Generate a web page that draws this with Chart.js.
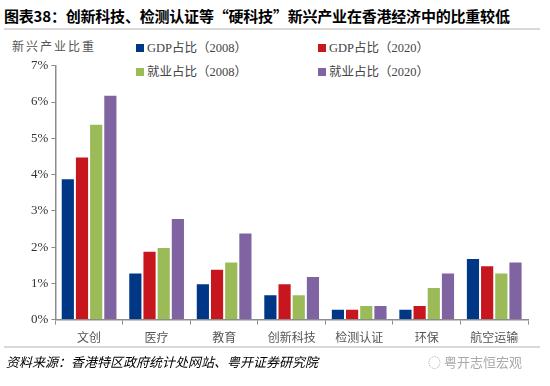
<!DOCTYPE html>
<html>
<head>
<meta charset="utf-8">
<script src="https://cdn.jsdelivr.net/npm/chart.js@4"></script>
<style>
  body { margin: 0; background: #fff; width: 550px; height: 386px; position: relative; overflow: hidden; font-family: "Noto Sans CJK SC", sans-serif; }
  #title { position: absolute; left: 4px; top: 5px; font-size: 15px; font-weight: bold; color: #000; white-space: nowrap; letter-spacing: -0.2px; }
  .rule { position: absolute; left: 4px; width: 536px; height: 2px; background: #d9d9d9; }
  #ylabel { position: absolute; left: 12px; top: 37px; font-size: 12px; color: #555; letter-spacing: 2px; }
  .leg { position: absolute; font-size: 12.5px; color: #444; white-space: nowrap; font-family: "Liberation Serif", "Noto Sans CJK SC", serif; }
  .leg span.box { display: inline-block; width: 8px; height: 8px; margin-right: 3px; vertical-align: 0px; }
  #source { position: absolute; left: 6px; top: 352px; font-size: 13px; font-style: italic; color: #000; white-space: nowrap; }
  #mark { position: absolute; left: 428px; top: 352px; font-size: 13px; color: #aaa; white-space: nowrap; }
  #wrap { position: absolute; left: 0; top: 55px; width: 550px; height: 296px; }
</style>
</head>
<body>
<div id="title">图表38：创新科技、检测认证等“硬科技”新兴产业在香港经济中的比重较低</div>
<div class="rule" style="top:28px"></div>
<div id="ylabel">新兴产业比重</div>
<div id="legend"></div>
<div id="wrap"><canvas id="chart"></canvas></div>
<div class="rule" style="top:346px"></div>
<div id="source">资料来源：香港特区政府统计处网站、粤开证券研究院</div>
<div id="mark">◌ 粤开志恒宏观</div>
<script>
const categories = ['文创', '医疗', '教育', '创新科技', '检测认证', '环保', '航空运输'];
const seriesNames = ['GDP占比（2008）', 'GDP占比（2020）', '就业占比（2008）', '就业占比（2020）'];
const gdp2008 = [3.9, 1.3, 1.0, 0.7, 0.3, 0.3, 1.7];
const gdp2020 = [4.5, 1.9, 1.4, 1.0, 0.3, 0.4, 1.5];
const job2008 = [5.4, 2.0, 1.6, 0.7, 0.4, 0.9, 1.3];
const job2020 = [6.2, 2.8, 2.4, 1.2, 0.4, 1.3, 1.6];
const colors = ['#003686', '#c8161e', '#9bbb59', '#8064a2'];

// legend drawn as html, two columns
const legendPos = [[136, 37], [318, 37], [136, 61], [318, 61]];
const legendContainer = document.getElementById('legend');
seriesNames.forEach((name, i) => {
    const item = document.createElement('div');
    item.className = 'leg';
    item.style.left = legendPos[i][0] + 'px';
    item.style.top = legendPos[i][1] + 'px';
    const box = document.createElement('span');
    box.className = 'box';
    box.style.backgroundColor = colors[i];
    item.appendChild(box);
    item.appendChild(document.createTextNode(name));
    legendContainer.appendChild(item);
});

const ctx = document.getElementById('chart').getContext('2d');
new Chart(ctx, {
    type: 'bar',
    data: {
        labels: categories,
        datasets: [gdp2008, gdp2020, job2008, job2020].map((d, i) => ({
            label: seriesNames[i],
            data: d,
            backgroundColor: colors[i],
            borderColor: '#ffffff',
            borderWidth: 1,
            categoryPercentage: 0.84,
            barPercentage: 1.0
        }))
    },
    options: {
        responsive: true,
        maintainAspectRatio: false,
        animation: false,
        layout: { padding: { left: 28, right: 22, top: 10, bottom: 0 } },
        plugins: {
            legend: { display: false },
            tooltip: { enabled: false }
        },
        scales: {
            x: {
                grid: { offset: true, drawOnChartArea: false, drawTicks: true, tickLength: 5, color: '#8c8c8c' },
                border: { color: '#8c8c8c', width: 1.5 },
                ticks: { color: '#555', font: { family: '"Noto Sans CJK SC"', size: 12 }, padding: 6 }
            },
            y: {
                min: 0, max: 7,
                grid: { drawOnChartArea: false, drawTicks: true, tickLength: 4, color: '#8c8c8c' },
                border: { color: '#8c8c8c', width: 1.5 },
                ticks: {
                    stepSize: 1,
                    color: '#333',
                    font: { family: '"Liberation Serif"', size: 13 },
                    padding: 3,
                    callback: v => v + '%'
                }
            }
        }
    }
});
</script>
</body>
</html>
